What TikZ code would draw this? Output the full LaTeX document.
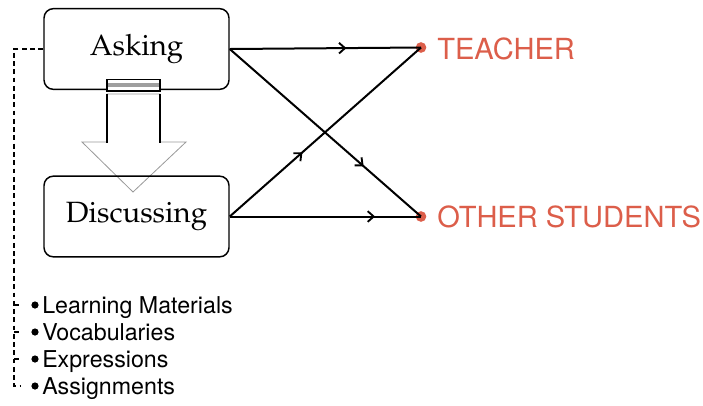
\documentclass[tikz,border=0pt]{standalone}
\usepackage{fontspec}
\usepackage[T1,TU]{fontenc}
\usetikzlibrary{decorations.markings,arrows.meta}
\newfontfamily\hv{TeX Gyre Heros}
\newcommand{\palfont}{\fontencoding{T1}\fontfamily{ppl}\selectfont}
\definecolor{accent}{RGB}{220,94,74}
\tikzset{
  stagebox/.style={draw=black,line width=1.1pt,rounded corners=7pt,
    minimum width=138.75pt,minimum height=60.5pt,inner sep=0pt,
    font=\palfont\fontsize{22}{26}\selectfont},
  target/.style={circle,fill=accent,inner sep=0pt,minimum size=8pt},
  targetlabel/.style={anchor=base west,inner sep=0pt,text=accent,
    font=\hv\fontsize{21.8}{26}\selectfont},
  bulletdot/.style={circle,fill=black,inner sep=0pt,minimum size=5.4pt},
  item/.style={anchor=base west,inner sep=0pt,font=\hv\fontsize{17.4}{21}\selectfont},
  flow/.style={line width=1.5pt,postaction={decorate},
    decoration={markings,mark=at position #1 with {\arrow{Straight Barb[length=4.5pt,width=8pt,line width=1.4pt]}}}},
  tree/.style={line width=1.1pt,dash pattern=on 3.6pt off 2.6pt},
}
\begin{document}
\begin{tikzpicture}[x=0.75pt,y=-0.75pt]
\useasboundingbox (0,0) rectangle (703,405);

% stages
\node[stagebox] (ask) at (136.5,49) {Asking};

% block arrow from Asking down to Discussing
\filldraw[fill=white,draw=gray!80,line width=0.6pt]
  (107,94) -- (107,142) -- (82,142) -- (133,192) -- (186,142) -- (160,142) -- (160,94) -- cycle;
\draw[line width=1.2pt] (107,94) -- (107,142.5) (160,94) -- (160,142.5);
\fill[white] (107,79.5) rectangle (160,92);
\fill[gray!75] (107,82.5) rectangle (160,86.8);
\draw[line width=0.9pt] (107,79.5) rectangle (160,91);

\node[stagebox] (disc) at (136.5,216.5) {Discussing};

% targets
\node[target] (teacher) at (421,47.5) {};
\node[target] (others) at (421,216.5) {};
\node[targetlabel] (tlab) at (437,59.5) {TEACHER};
\node[targetlabel] (olab) at (437,227) {OTHER STUDENTS};

% flows
\draw[flow=0.61] (ask.east) -- (teacher.center);
\draw[flow=0.70] (ask.east) -- (others.center);
\draw[flow=0.38] (disc.east) -- (teacher.center);
\draw[flow=0.76] (disc.east) -- (others.center);

% list of topics
\node[bulletdot] (b1) at (35,305) {};
\node[bulletdot] (b2) at (35,332) {};
\node[bulletdot] (b3) at (35,359) {};
\node[bulletdot] (b4) at (35,386) {};
\node[item] (i1) at (42,313) {Learning Materials};
\node[item] (i2) at (42,340) {Vocabularies};
\node[item] (i3) at (42,367) {Expressions};
\node[item] (i4) at (42,394) {Assignments};

\coordinate (t1) at (21,305);
\coordinate (t2) at (21,332);
\coordinate (t3) at (21,359);
\coordinate (t4) at (21,386);
\coordinate (spine) at (14,386);

\draw[tree] (ask.west) -| (spine) -- (t4);
\draw[tree] (t1 -| spine) -- (t1);
\draw[tree] (t2 -| spine) -- (t2);
\draw[tree] (t3 -| spine) -- (t3);
\end{tikzpicture}
\end{document}
